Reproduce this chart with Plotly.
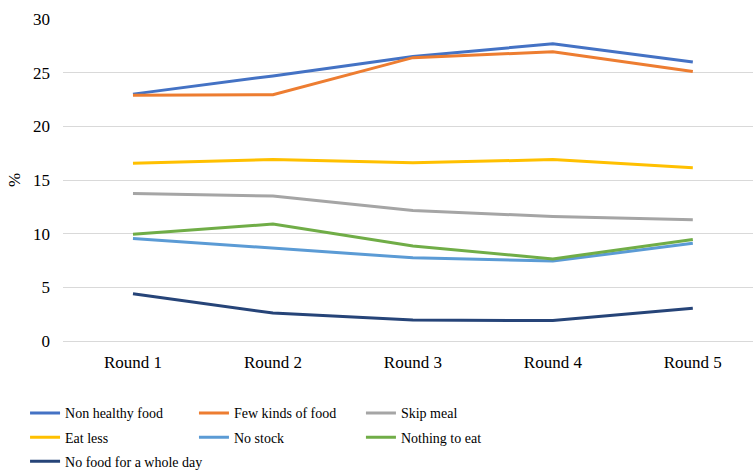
import plotly.graph_objects as go

rounds = ["Round 1", "Round 2", "Round 3", "Round 4", "Round 5"]
series_names = ["Non healthy food", "Few kinds of food", "Skip meal", "Eat less",
                "No stock", "Nothing to eat", "No food for a whole day"]
non_healthy = [23.0, 24.7, 26.5, 27.7, 26.0]
few_kinds = [22.9, 22.95, 26.4, 26.95, 25.1]
skip_meal = [13.75, 13.5, 12.15, 11.6, 11.3]
eat_less = [16.55, 16.9, 16.6, 16.9, 16.15]
no_stock = [9.55, 8.65, 7.75, 7.45, 9.1]
nothing_to_eat = [9.95, 10.9, 8.85, 7.65, 9.45]
no_food_day = [4.4, 2.6, 1.95, 1.9, 3.05]
colors = ["#4472C4", "#ED7D31", "#A5A5A5", "#FFC000", "#5B9BD5", "#70AD47", "#264478"]
legend_column = ["legend", "legend2", "legend3", "legend", "legend2", "legend3", "legend"]

values = [non_healthy, few_kinds, skip_meal, eat_less, no_stock, nothing_to_eat, no_food_day]

fig = go.Figure()
for name, vals, col, lg in zip(series_names, values, colors, legend_column):
    fig.add_trace(go.Scatter(x=rounds, y=vals, name=name, mode="lines", legend=lg,
                             legendgroup=name, line=dict(color=col, width=3)))

fam = "Times New Roman"
font = dict(family=fam, size=17, color="#000000")
lfont = dict(family=fam, size=14, color="#000000")

def leg(x):
    return dict(orientation="v", x=x, xanchor="left", y=-0.175, yanchor="top",
                font=lfont, traceorder="grouped", tracegroupgap=3, itemwidth=30,
                bgcolor="rgba(0,0,0,0)")

fig.update_layout(
    width=753, height=470,
    margin=dict(l=63, r=0, t=19, b=129, autoexpand=False),
    paper_bgcolor="white", plot_bgcolor="white",
    font=font,
    showlegend=True,
    legend=leg(-0.055), legend2=leg(0.1898), legend3=leg(0.4318),
    xaxis=dict(range=[-0.5, 4.43], showgrid=False, ticks="", showline=False,
               tickfont=font, fixedrange=True, ticklabelstandoff=9),
    yaxis=dict(range=[0, 30], dtick=5, showgrid=True, gridcolor="#D9D9D9", gridwidth=1,
               zeroline=True, zerolinecolor="#D9D9D9", zerolinewidth=1,
               ticks="", showline=False, tickfont=font, ticklabelstandoff=12,
               title=dict(text="%", font=font, standoff=8)),
)
fig.write_html("out.html")
